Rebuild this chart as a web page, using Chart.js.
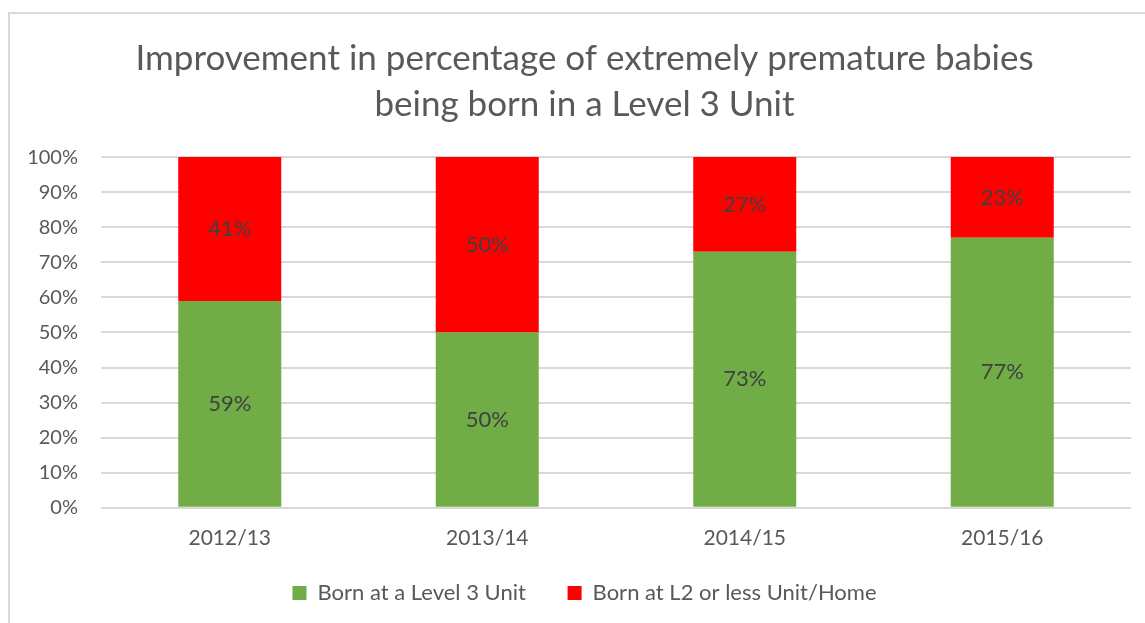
<!DOCTYPE html>
<html>
<head>
<meta charset="utf-8">
<script src="https://cdn.jsdelivr.net/npm/chart.js"></script>
<style>
  body { margin: 0; background: #fff; }
  #frame {
    position: absolute; left: 8px; top: 12px;
    width: 1200px; height: 700px;
    border: 2px solid #d9d9d9;
  }
  #wrap { position: absolute; left: 0; top: 0; width: 1145px; height: 623px; }
</style>
</head>
<body>
<div id="frame"></div>
<div id="wrap"><canvas id="chart"></canvas></div>
<script>
// categories and series (percent)
const years = ["2012/13", "2013/14", "2014/15", "2015/16"];
const level3 = [59, 50, 73, 77];
const lowerUnit = [41, 50, 27, 23];
const yTicks = [0, 10, 20, 30, 40, 50, 60, 70, 80, 90, 100];

const FONT = "Lato, 'Open Sans', sans-serif";
const GREY = "#595959";

// draw the value in the middle of each bar segment
const segmentLabels = {
  id: "segmentLabels",
  afterDatasetsDraw(chart) {
    const ctx = chart.ctx;
    ctx.save();
    ctx.font = "22px " + FONT;
    ctx.fillStyle = "#404040";
    ctx.textAlign = "center";
    ctx.textBaseline = "middle";
    chart.data.datasets.forEach((ds, i) => {
      chart.getDatasetMeta(i).data.forEach((bar, j) => {
        const p = bar.getCenterPoint();
        ctx.fillText(ds.data[j] + "%", p.x, p.y);
      });
    });
    ctx.restore();
  }
};

new Chart(document.getElementById("chart"), {
  type: "bar",
  data: {
    labels: years,
    datasets: [
      { label: "Born at a Level 3 Unit", data: level3, backgroundColor: "#70ad47" },
      { label: "Born at L2 or less Unit/Home", data: lowerUnit, backgroundColor: "#ff0000" }
    ]
  },
  options: {
    responsive: true,
    maintainAspectRatio: false,
    animation: false,
    layout: { padding: { left: 24, right: 0, top: 0, bottom: 9 } },
    datasets: { bar: { categoryPercentage: 1, barPercentage: 0.4 } },
    scales: {
      x: {
        stacked: true,
        grid: { display: false },
        border: { display: false },
        ticks: { color: GREY, font: { family: FONT, size: 21 }, padding: 10 },
        afterFit: (axis) => { axis.height -= 7; }
      },
      y: {
        stacked: true,
        min: 0,
        max: 100,
        afterBuildTicks: (axis) => { axis.ticks = yTicks.map(v => ({ value: v })); },
        afterFit: (axis) => { axis.width = 77; },
        grid: { color: "#d9d9d9", lineWidth: 2, drawTicks: false },
        border: { display: false },
        ticks: {
          color: GREY,
          font: { family: FONT, size: 20 },
          padding: 23,
          callback: (v) => v + "%"
        }
      },
      // empty right-hand axis, only keeps the plot's right margin
      y2: {
        position: "right",
        grid: { display: false },
        border: { display: false },
        ticks: { display: false },
        afterFit: (axis) => { axis.width = 14; }
      }
    },
    plugins: {
      title: {
        display: true,
        text: ["Improvement in percentage of extremely premature babies", "being born in a Level 3 Unit"],
        color: GREY,
        font: { family: FONT, size: 35, weight: "normal", lineHeight: 1.33 },
        padding: { top: 35, bottom: 29 }
      },
      legend: {
        position: "bottom",
        labels: {
          color: GREY,
          font: { family: FONT, size: 22 },
          boxWidth: 14,
          boxHeight: 14,
          padding: 28,
          generateLabels: (chart) => {
            const items = Chart.defaults.plugins.legend.labels.generateLabels(chart);
            items[0].text += "\u2002\u2009";
            return items;
          }
        }
      },
      tooltip: { enabled: false }
    }
  },
  plugins: [segmentLabels]
});
</script>
</body>
</html>
